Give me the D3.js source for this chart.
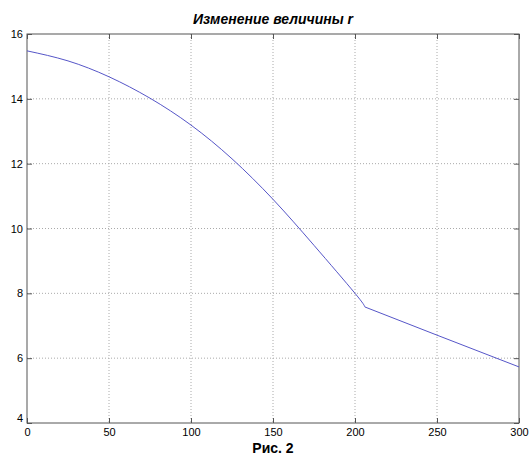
<!DOCTYPE html>
<html>
<head>
<meta charset="utf-8">
<script src="https://cdn.jsdelivr.net/npm/d3@7"></script>
<style>
  body { margin: 0; background: #fff; }
  text { font-family: "Liberation Sans", Arial, sans-serif; }
</style>
</head>
<body>
<div id="chart"></div>
<script>
// values
const xsCurve = [0, 25, 50, 75, 100, 125, 150, 175, 200, 206];
const rsCurve = [15.48, 15.17, 14.68, 14.02, 13.19, 12.15, 10.9, 9.48, 8.0, 7.58];
const xsLine = [206, 250, 300];
const rsLine = [7.58, 6.71, 5.73];
const xTicks = [0, 50, 100, 150, 200, 250, 300];
const yTicks = [4, 6, 8, 10, 12, 14, 16];
const title = "Изменение величины r";
const caption = "Рис. 2";

const width = 529, height = 459;
const margin = { top: 34, right: 10, bottom: 36, left: 27 };
const iw = width - margin.left - margin.right;
const ih = height - margin.top - margin.bottom;

const svg = d3.select("#chart").append("svg")
  .attr("width", width)
  .attr("height", height);

const g = svg.append("g").attr("transform", `translate(${margin.left},${margin.top})`);

const x = d3.scaleLinear().domain([0, 300]).range([0, iw]);
const y = d3.scaleLinear().domain([4, 16]).range([ih, 0]);

// grid
g.selectAll(".vgrid").data(xTicks.slice(1, -1)).enter().append("line")
  .attr("x1", d => x(d)).attr("x2", d => x(d))
  .attr("y1", 0).attr("y2", ih)
  .attr("stroke", "#aaa").attr("stroke-dasharray", "1,2");
g.selectAll(".hgrid").data(yTicks.slice(1, -1)).enter().append("line")
  .attr("y1", d => y(d)).attr("y2", d => y(d))
  .attr("x1", 0).attr("x2", iw)
  .attr("stroke", "#aaa").attr("stroke-dasharray", "1,2");

// box
g.append("rect").attr("width", iw).attr("height", ih)
  .attr("fill", "none").attr("stroke", "#555");

// axes with inward ticks
const axStyle = sel => {
  sel.select(".domain").remove();
  sel.selectAll(".tick line").attr("stroke", "#555");
  sel.selectAll(".tick text").attr("fill", "#000")
    .style("font-family", "'Liberation Sans', Arial, sans-serif")
    .style("font-size", "11px");
};
g.append("g").attr("transform", `translate(0,${ih})`)
  .call(d3.axisBottom(x).tickValues(xTicks).tickSize(-5).tickPadding(5))
  .call(axStyle);
g.append("g")
  .call(d3.axisTop(x).tickValues(xTicks).tickSize(-5).tickFormat(""))
  .call(axStyle);
g.append("g")
  .call(d3.axisLeft(y).tickValues(yTicks).tickSize(-5).tickPadding(4))
  .call(axStyle)
  .selectAll(".tick text")
  .attr("dy", d => d === 4 ? "-0.1em" : "0.32em");
g.append("g").attr("transform", `translate(${iw},0)`)
  .call(d3.axisRight(y).tickValues(yTicks).tickSize(-5).tickFormat(""))
  .call(axStyle);

// curve part, then straight part after the break
const curve = d3.line().x((d, i) => x(xsCurve[i])).y(d => y(d)).curve(d3.curveNatural);
g.append("path").datum(rsCurve)
  .attr("d", curve)
  .attr("fill", "none")
  .attr("stroke", "#5656c8")
  .attr("stroke-width", 1);

const straight = d3.line().x((d, i) => x(xsLine[i])).y(d => y(d));
g.append("path").datum(rsLine)
  .attr("d", straight)
  .attr("fill", "none")
  .attr("stroke", "#5656c8")
  .attr("stroke-width", 1);

svg.append("text")
  .attr("x", margin.left + iw / 2).attr("y", 24)
  .attr("text-anchor", "middle")
  .attr("font-size", "14px").attr("font-weight", "bold").attr("font-style", "italic")
  .text(title);

svg.append("text")
  .attr("x", margin.left + iw / 2).attr("y", 453)
  .attr("text-anchor", "middle")
  .attr("font-size", "14px").attr("font-weight", "bold")
  .text(caption);
</script>
</body>
</html>
